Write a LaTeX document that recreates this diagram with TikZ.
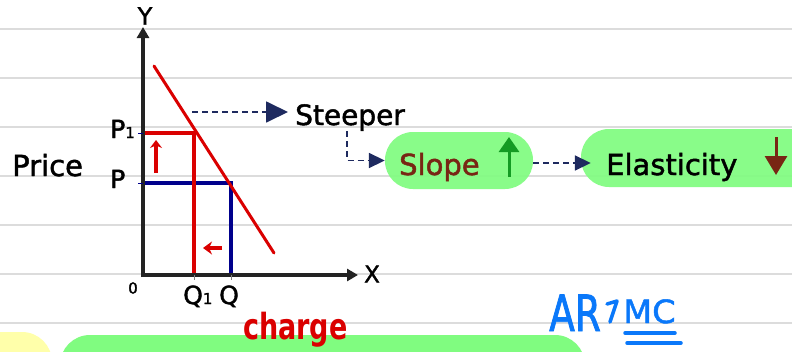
\documentclass[tikz,border=0pt]{standalone}
\usepackage{fontspec}
\setmainfont[FakeBold=1.6]{DejaVu Sans}
\newfontfamily\handfont[FakeStretch=0.75]{DejaVu Sans}
\newfontfamily\arfont[FakeStretch=0.75,FakeBold=1.5]{DejaVu Sans}
\newfontfamily\mcfont[FakeStretch=1.05,FakeBold=1.5]{DejaVu Sans}
\usetikzlibrary{arrows.meta}
\definecolor{gridgray}{RGB}{220,220,220}
\definecolor{axisgray}{RGB}{35,35,35}
\definecolor{demandred}{RGB}{218,0,0}
\definecolor{qblue}{RGB}{0,0,140}
\definecolor{navy}{RGB}{30,42,95}
\definecolor{pillgreen}{RGB}{128,252,128}
\definecolor{slopebrown}{RGB}{120,38,20}
\definecolor{upgreen}{RGB}{20,155,35}
\definecolor{notesyellow}{RGB}{255,255,170}
\definecolor{penblue}{RGB}{10,120,250}
\tikzset{
  fs/.style={font=\fontsize{#1}{#1}\selectfont},
  lbl/.style={inner sep=0pt, anchor=base west, text=black},
  dasharrow/.style={draw=navy, line width=1.8pt, dash pattern=on 6pt off 4pt},
  pill/.style={fill=pillgreen, fill opacity=0.92, rounded corners=28pt, inner sep=0pt, minimum height=57pt},
  axisline/.style={axisgray, line width=4pt},
  pen/.style={penblue, line width=3.5pt, line cap=round, line join=round},
}
\begin{document}
\begin{tikzpicture}[x=1pt,y=-1pt]
\useasboundingbox (0,0) rectangle (792,351);
\clip (0,0) rectangle (792,351);
\fill[white] (0,0) rectangle (792,351);
\foreach \yy in {29,78,127,176,225,274,323} \draw[gridgray, line width=2pt] (0,\yy) -- (792,\yy);

% bottom shapes
\fill[notesyellow, rounded corners=30pt] (-40,332) rectangle (52,420);
\fill[pillgreen, rounded corners=30pt] (60,335) rectangle (585,420);

% graph
\coordinate (O) at (143,275);
\coordinate (ytop) at (143,27);
\coordinate (xend) at (358,275);
\coordinate (dA) at (154,66);
\coordinate (dB) at (274,253);
\coordinate (p1) at (143,133);
\coordinate (e1) at (194,133);
\coordinate (q1) at (194,275);
\coordinate (p0) at (143,183);
\coordinate (e0) at (231,183);
\coordinate (q0) at (231,273);

\draw[qblue, line width=3.5pt] (p0) -- (e0) -- (q0);
\draw[demandred, line width=3.5pt] (p1) -- (e1) -- (q1);
\draw[demandred, line width=3pt, line cap=round] (dA) -- (dB);
\draw[axisline, -{Triangle[length=11pt,width=12pt]}] (143,277) -- (ytop);
\draw[axisline, -{Triangle[length=11pt,width=12pt]}] (141,275) -- (xend);

% ticks
\draw[qblue, line width=1pt] (138,133) -- (p1);
\draw[qblue, line width=1pt] (138,183) -- (p0);
\draw[gray, line width=1pt] (q1) -- (194,280);
\draw[gray, line width=1pt] (231,275) -- (231,280);

% labels
\node[fs=24, inner sep=0pt] (ylab) at (145,16) {Y};
\node[fs=23, inner sep=0pt] (xlab) at (372,274) {X};
\node[fs=15, inner sep=0pt] (olab) at (133,288) {0};
\node[lbl, fs=25] (p1lab) at (110,138) {P{\fontsize{15}{15}\selectfont 1}};
\node[lbl, fs=25] (plab) at (110,188) {P};
\node[lbl, fs=25] (q1lab) at (183,304) {Q{\fontsize{15}{15}\selectfont 1}};
\node[lbl, fs=25] (qlab) at (219,304) {Q};
\node[lbl, fs=29] (price) at (12,176) {Price};

% red arrows
\draw[demandred, line width=4pt, -{Stealth[length=8pt,width=12pt]}] (156,173) -- (156,140);
\draw[demandred, line width=4pt, -{Stealth[length=9pt,width=13pt]}] (222,248) -- (203,248);

% flow
\node[lbl, fs=28] (steeper) at (295,125) {Steeper};
\node[pill, minimum width=148pt] (slope) at (459,160.5) {};
\node[lbl, fs=29, text=slopebrown] (slopetxt) at (399,175) {Slope};
\draw[upgreen, line width=3pt, -{Triangle[length=15pt,width=20pt]}] (509,177) -- (509,137);
\node[pill, minimum width=250pt, minimum height=58pt] (elast) at (706,158) {};
\node[lbl, fs=29] (elasttxt) at (606,175) {Elasticity};
\draw[slopebrown, line width=3pt, -{Triangle[length=19pt,width=22pt]}] (776,137) -- (776,175);

\coordinate (s0) at (192,112);
\draw[dasharrow, shorten >=7pt, -{Triangle[length=22pt,width=21pt]}] (s0) -- (s0 -| steeper.west);
\coordinate (s1) at (347,131);
\draw[dasharrow, -{Triangle[length=16pt,width=15pt]}] (s1) |- (slope.west);
\draw[dasharrow, shorten >=-10pt, -{Triangle[length=16pt,width=15pt]}] ([yshift=-2.5pt]slope.east) -- ([yshift=-2.5pt]slope.east -| elast.west);

% handwriting
\node[lbl, fs=36, text=demandred] (charge) at (243,339) {\handfont\bfseries charge};
\node[lbl, fs=50, text=penblue] (ar) at (549,331) {\arfont AR};
\draw[pen] (607,304) -- (617,301) -- (610,322);
\node[lbl, fs=32, text=penblue] (mc) at (623,323) {\mcfont MC};
\draw[pen] (625,333) -- (675,333);
\draw[pen] (627,343) -- (681,343);
\end{tikzpicture}
\end{document}
